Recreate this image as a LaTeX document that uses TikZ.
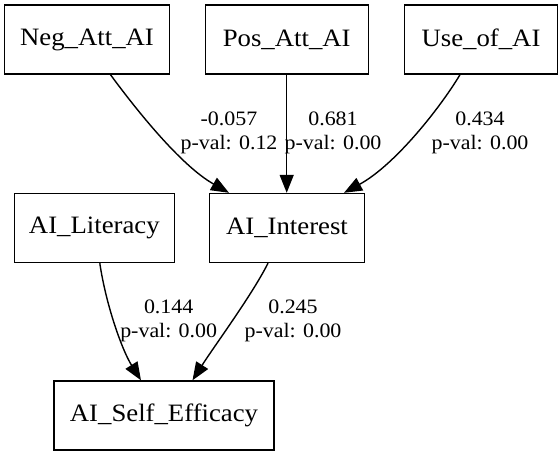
\documentclass[tikz,border=0pt]{standalone}
\usepackage{fontspec}
\setmainfont{Liberation Serif}[FakeStretch=1.07]
\usetikzlibrary{arrows.meta,calc}
\begin{document}
\begin{tikzpicture}[x=1pt,y=-1pt,
  box/.style={draw,line width=1.4pt,inner sep=0pt,minimum height=69pt,font=\fontsize{25}{28}\selectfont},
  edge/.style={line width=1.4pt,-{Triangle[length=18pt,width=14pt]}},
  lbl/.style={align=center,font=\fontsize{20.5}{24}\selectfont,inner sep=0pt}]
\useasboundingbox (0,0) rectangle (559,453);
\node[box,minimum width=165pt] (neg) at (87,39.5) {Neg\_Att\_AI};
\node[box,minimum width=163pt] (pos) at (286.7,39.5) {Pos\_Att\_AI};
\node[box,minimum width=153pt] (use) at (481,39.5) {Use\_of\_AI};
\node[box,minimum width=160pt] (lit) at (94.3,228) {AI\_Literacy};
\node[box,minimum width=155pt] (int) at (287,228) {AI\_Interest};
\node[box,minimum width=220pt] (se) at (164,415.5) {AI\_Self\_Efficacy};
\draw[edge] ([xshift=23.5pt]neg.south) .. controls (135,108) and (180,165) .. ([xshift=-58pt]int.north);
\draw[edge] (pos.south) -- (pos.south |- int.north);
\draw[edge] ([xshift=-21pt]use.south) .. controls (440,108) and (395,165) .. ([xshift=57pt]int.north);
\draw[edge] ([xshift=5.5pt]lit.south) .. controls (106,305) and (122,350) .. ([xshift=-23pt]se.north);
\draw[edge] ([xshift=-19pt]int.south) .. controls (252,295) and (215,345) .. ([xshift=28.5pt]se.north);
\node[lbl] (l1) at (229,133) {-0.057\\p-val: 0.12};
\node[lbl] (l2) at (333,133) {0.681\\p-val: 0.00};
\node[lbl] (l3) at (480,133) {0.434\\p-val: 0.00};
\node[lbl] (l4) at (168.7,321) {0.144\\p-val: 0.00};
\node[lbl] (l5) at (293,321) {0.245\\p-val: 0.00};
\end{tikzpicture}
\end{document}
